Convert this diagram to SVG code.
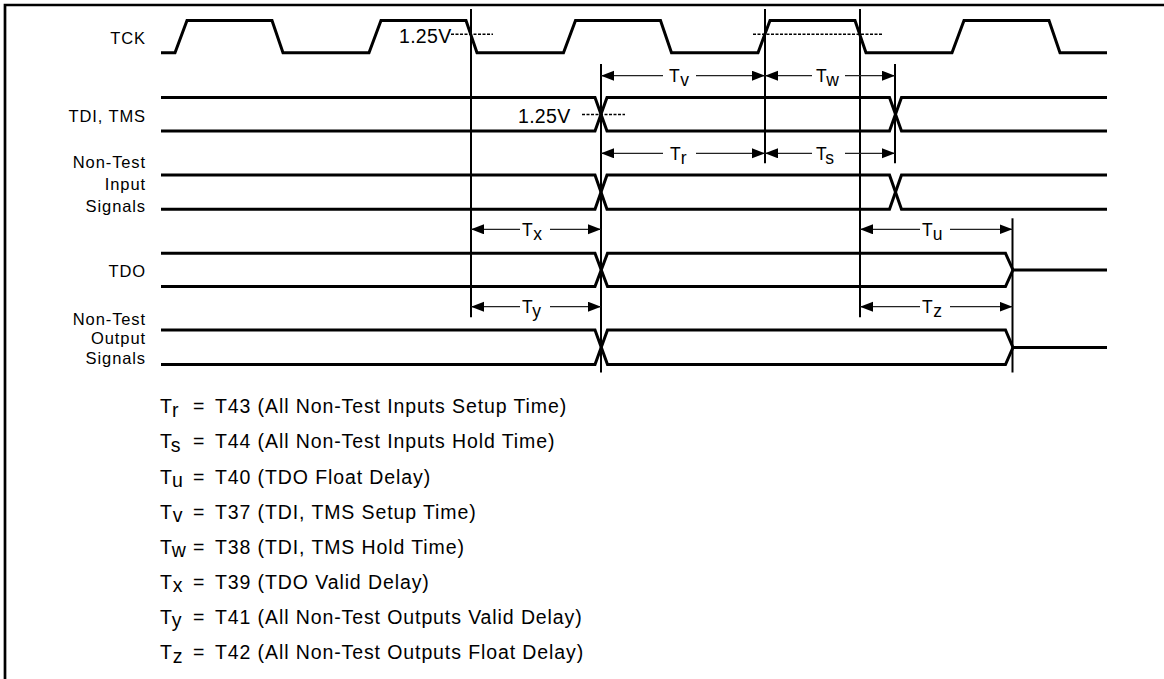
<svg xmlns="http://www.w3.org/2000/svg" width="1164" height="679" viewBox="0 0 1164 679">
<style>
.bg{fill:#fff}
.frame{fill:none;stroke:#000;stroke-width:2.7}
.sig{fill:none;stroke:#000;stroke-width:3;stroke-linejoin:miter}
.vref{fill:none;stroke:#000;stroke-width:2}
.dim{fill:none;stroke:#222;stroke-width:1.2}
.dash{fill:none;stroke:#000;stroke-width:1.5;stroke-dasharray:3 1.5}
.lbl{font-family:"Liberation Sans",Arial,sans-serif;font-size:16.5px;letter-spacing:0.9px;fill:#000;text-anchor:end}
.tl{font-family:"Liberation Sans",Arial,sans-serif;font-size:17.5px;letter-spacing:0.6px;fill:#000}
.lg{font-family:"Liberation Sans",Arial,sans-serif;font-size:19.5px;letter-spacing:0.9px;fill:#000}
</style>
<defs>
<marker id="ah" markerUnits="userSpaceOnUse" markerWidth="14" markerHeight="11" refX="13" refY="5" orient="auto-start-reverse">
<path d="M0,0 L13,5 L0,10 z" fill="#000"/>
</marker>
</defs>
<rect class="bg" x="0" y="0" width="1164" height="679"/>
<path class="frame" d="M5,679 V5 H1164"/>

<g id="tck">
<text class="lbl" x="146" y="44">TCK</text>
<path class="sig" d="M161,52.7 H175 L187,20.5 H272 L283,52.7 H369 L381,20.5 H466 L477,52.7 H563.5 L575.5,20.5 H660.5 L671.5,52.7 H758 L770,20.5 H855 L866,52.7 H952 L964,20.5 H1049 L1060,52.7 H1107"/>
<text class="lg" x="399" y="43.3" style="letter-spacing:0.3px">1.25V</text>
<path class="dash" d="M451,34.3 H493"/>
<path class="dash" d="M753,34.3 H882"/>
</g>

<g id="tdi-tms">
<text class="lbl" x="146" y="122">TDI, TMS</text>
<path class="sig" d="M161,97.5 H595 L607,131 H889.5 L901.5,97.5 H1107"/>
<path class="sig" d="M161,131 H595 L607,97.5 H889.5 L901.5,131 H1107"/>
<text class="lg" x="518" y="123.3" style="letter-spacing:0.3px">1.25V</text>
<path class="dash" d="M582,114.5 H625"/>
</g>

<g id="non-test-input">
<text class="lbl" x="146" y="167.5">Non-Test</text>
<text class="lbl" x="146" y="190">Input</text>
<text class="lbl" x="146" y="212">Signals</text>
<path class="sig" d="M161,175 H595 L607,209.3 H889.5 L901.5,175 H1107"/>
<path class="sig" d="M161,209.3 H595 L607,175 H889.5 L901.5,209.3 H1107"/>
</g>

<g id="tdo">
<text class="lbl" x="146" y="276.5">TDO</text>
<path class="sig" d="M161,253.3 H595 L607.5,286.5 H1005.5 L1013,270 H1107"/>
<path class="sig" d="M161,286.5 H595 L607.5,253.3 H1005.5 L1013,270"/>
</g>

<g id="non-test-output">
<text class="lbl" x="146" y="324.5">Non-Test</text>
<text class="lbl" x="146" y="344">Output</text>
<text class="lbl" x="146" y="364">Signals</text>
<path class="sig" d="M161,330 H595 L607.5,364.5 H1005.5 L1013,347.5 H1107"/>
<path class="sig" d="M161,364.5 H595 L607.5,330 H1005.5 L1013,347.5"/>
</g>

<g id="connectors">
<line class="vref" x1="471" y1="9" x2="471" y2="317.3"/>
<line class="vref" x1="601" y1="64" x2="601" y2="372.5"/>
<line class="vref" x1="765" y1="9" x2="765" y2="163.3"/>
<line class="vref" x1="860" y1="9" x2="860" y2="317.3"/>
<line class="vref" x1="895" y1="64" x2="895" y2="163.3"/>
<line class="vref" x1="1012.5" y1="218.3" x2="1012.5" y2="372.5"/>

<path class="dim" d="M601,75.7 H663" marker-start="url(#ah)"/>
<path class="dim" d="M696,75.7 H765" marker-end="url(#ah)"/>
<path class="dim" d="M765,75.7 H812" marker-start="url(#ah)"/>
<path class="dim" d="M845,75.7 H895" marker-end="url(#ah)"/>

<path class="dim" d="M601,153.3 H663" marker-start="url(#ah)"/>
<path class="dim" d="M696,153.3 H765" marker-end="url(#ah)"/>
<path class="dim" d="M765,153.3 H812" marker-start="url(#ah)"/>
<path class="dim" d="M845,153.3 H895" marker-end="url(#ah)"/>

<path class="dim" d="M471,229.3 H520" marker-start="url(#ah)"/>
<path class="dim" d="M550,229.3 H601" marker-end="url(#ah)"/>
<path class="dim" d="M860,229.3 H920" marker-start="url(#ah)"/>
<path class="dim" d="M950,229.3 H1012.5" marker-end="url(#ah)"/>

<path class="dim" d="M471,306.7 H520" marker-start="url(#ah)"/>
<path class="dim" d="M550,306.7 H601" marker-end="url(#ah)"/>
<path class="dim" d="M860,306.7 H920" marker-start="url(#ah)"/>
<path class="dim" d="M950,306.7 H1012.5" marker-end="url(#ah)"/>

<text class="tl" x="669" y="82">T<tspan dy="4">v</tspan></text>
<text class="tl" x="816" y="82">T<tspan dy="4">w</tspan></text>
<text class="tl" x="670" y="159.5">T<tspan dy="4">r</tspan></text>
<text class="tl" x="816" y="159.5">T<tspan dy="4">s</tspan></text>
<text class="tl" x="522" y="236">T<tspan dy="4">x</tspan></text>
<text class="tl" x="922" y="236">T<tspan dy="4">u</tspan></text>
<text class="tl" x="522" y="313.4">T<tspan dy="4">y</tspan></text>
<text class="tl" x="922" y="313.4">T<tspan dy="4">z</tspan></text>
</g>

<g id="legend">
<text class="lg" x="160" y="413.3">T<tspan dy="3.5">r</tspan></text>
<text class="lg" x="193" y="413.3">=</text>
<text class="lg" x="215" y="413.3">T43 (All Non-Test Inputs Setup Time)</text>
<text class="lg" x="160" y="448.4">T<tspan dy="3.5">s</tspan></text>
<text class="lg" x="193" y="448.4">=</text>
<text class="lg" x="215" y="448.4">T44 (All Non-Test Inputs Hold Time)</text>
<text class="lg" x="160" y="483.5">T<tspan dy="3.5">u</tspan></text>
<text class="lg" x="193" y="483.5">=</text>
<text class="lg" x="215" y="483.5">T40 (TDO Float Delay)</text>
<text class="lg" x="160" y="518.6">T<tspan dy="3.5">v</tspan></text>
<text class="lg" x="193" y="518.6">=</text>
<text class="lg" x="215" y="518.6">T37 (TDI, TMS Setup Time)</text>
<text class="lg" x="160" y="553.7">T<tspan dy="3.5">w</tspan></text>
<text class="lg" x="193" y="553.7">=</text>
<text class="lg" x="215" y="553.7">T38 (TDI, TMS Hold Time)</text>
<text class="lg" x="160" y="588.8">T<tspan dy="3.5">x</tspan></text>
<text class="lg" x="193" y="588.8">=</text>
<text class="lg" x="215" y="588.8">T39 (TDO Valid Delay)</text>
<text class="lg" x="160" y="623.9">T<tspan dy="3.5">y</tspan></text>
<text class="lg" x="193" y="623.9">=</text>
<text class="lg" x="215" y="623.9">T41 (All Non-Test Outputs Valid Delay)</text>
<text class="lg" x="160" y="659">T<tspan dy="3.5">z</tspan></text>
<text class="lg" x="193" y="659">=</text>
<text class="lg" x="215" y="659">T42 (All Non-Test Outputs Float Delay)</text>
</g>
</svg>
